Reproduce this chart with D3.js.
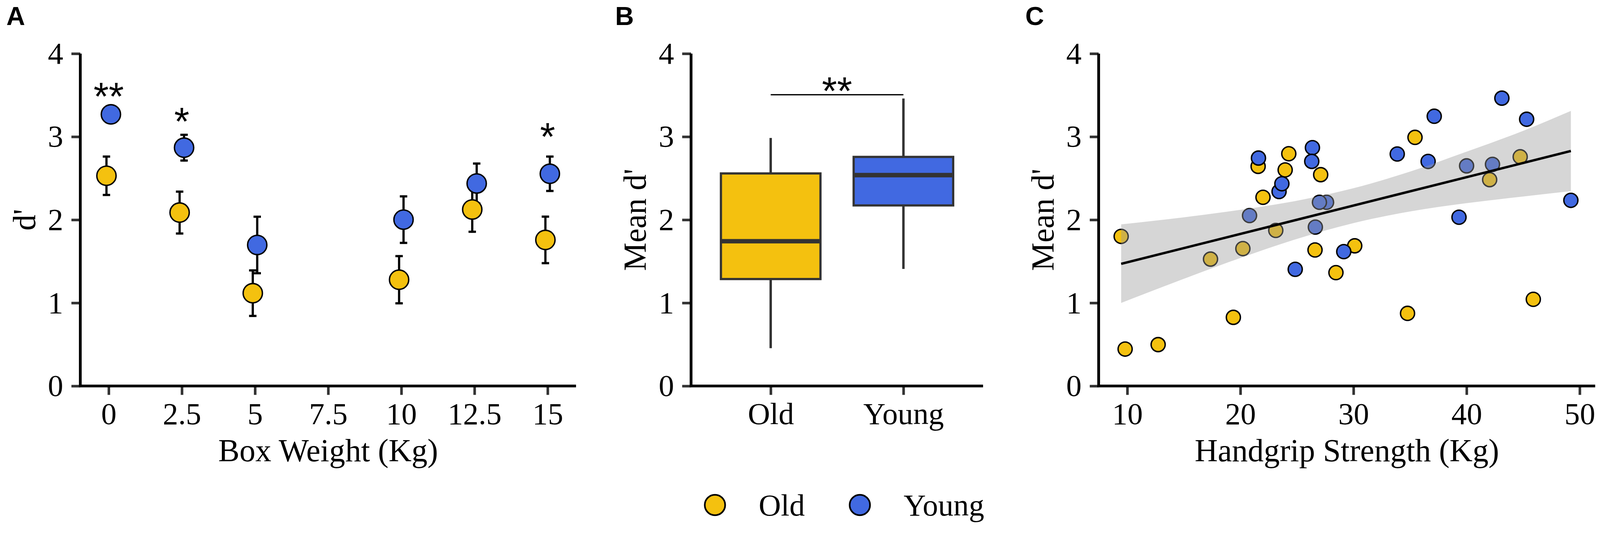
<!DOCTYPE html>
<html>
<head>
<meta charset="utf-8">
<script src="https://cdnjs.cloudflare.com/ajax/libs/d3/7.8.5/d3.min.js"></script>
<style>
  html, body { margin: 0; padding: 0; background: #fff; overflow: hidden; }
  #fig { display: block; }
  text { font-family: "Liberation Serif", "Times New Roman", serif; }
</style>
</head>
<body>
<svg id="fig"></svg>
<script>
// ---- panel A : d' by box weight (mean +/- error) ----
var boxWeight  = [0, 2.5, 5, 10, 12.5, 15];
var weightTicks = [0, 2.5, 5, 7.5, 10, 12.5, 15];
var oldMean    = [2.53, 2.087, 1.117, 1.279, 2.124, 1.758];
var oldErr     = [0.231, 0.252, 0.274, 0.284, 0.268, 0.28];
var youngMean  = [3.269, 2.868, 1.697, 2.002, 2.437, 2.554];
var youngErr   = [0.09, 0.155, 0.34, 0.28, 0.24, 0.207];
var starWeight = [0, 2.5, 15];
var starY      = [3.59, 3.29, 3.107];
var starText   = ['**', '*', '*'];

// ---- panel B : boxplot of mean d' ----
var groups   = ['Old', 'Young'];
var boxLow   = [0.455, 1.409];
var boxQ1    = [1.287, 2.173];
var boxMed   = [1.742, 2.538];
var boxQ3    = [2.558, 2.757];
var boxHigh  = [2.985, 3.46];

// ---- panel C : handgrip vs mean d' ----
var oldGrip   = [9.46, 9.81, 12.73, 17.36, 19.38, 20.22, 21.57, 22.0, 23.13, 23.96, 24.28, 26.6, 27.1, 28.45, 30.11, 34.78, 35.44, 42.04, 44.74, 45.9];
var oldDp     = [1.80, 0.444, 0.498, 1.527, 0.826, 1.653, 2.643, 2.271, 1.872, 2.60, 2.795, 1.637, 2.543, 1.364, 1.687, 0.874, 2.992, 2.483, 2.758, 1.043];
var youngGrip = [20.81, 21.6, 23.42, 23.67, 24.85, 26.37, 26.31, 26.63, 27.62, 26.99, 29.14, 33.87, 36.6, 37.14, 39.33, 40.0, 42.29, 43.12, 45.31, 49.22];
var youngDp   = [2.051, 2.743, 2.34, 2.434, 1.404, 2.868, 2.703, 1.912, 2.211, 2.211, 1.617, 2.792, 2.702, 3.246, 2.031, 2.649, 2.667, 3.464, 3.21, 2.234];
var fitX      = [9.46, 49.22];
var fitY      = [1.47, 2.828];
var bandX     = [9.46, 15, 20, 25, 30, 35, 40, 45, 49.22];
var bandLo    = [1.00, 1.29, 1.54, 1.77, 1.96, 2.10, 2.20, 2.28, 2.345];
var bandHi    = [1.945, 2.03, 2.12, 2.23, 2.38, 2.58, 2.82, 3.07, 3.31];
var gripTicks = [10, 20, 30, 40, 50];

var dTicks = [0, 1, 2, 3, 4];
var OLD = '#F4C10F', YOUNG = '#4169E1';

var W = 4318, H = 1425;
var yTop = 144.6, yBot = 1041;
// fit the drawing to the window width, keep the aspect
var vw = document.documentElement.clientWidth || window.innerWidth || W;
var svg = d3.select('#fig').attr('viewBox', '0 0 ' + W + ' ' + H)
  .attr('width', vw).attr('height', vw * H / W);
var y = d3.scaleLinear().domain([0, 4]).range([yBot, yTop]);

function axes(x, ax, xEnd, tickVals, fmt, xTitle, yTitle) {
  var g = svg.append('g');
  var xa = g.append('g').attr('transform', 'translate(0,' + yBot + ')')
    .call(d3.axisBottom(x).tickValues(tickVals).tickFormat(fmt)
      .tickSize(24).tickPadding(20).tickSizeOuter(0));
  var ya = g.append('g').attr('transform', 'translate(' + ax + ',0)')
    .call(d3.axisLeft(y).tickValues(dTicks).tickFormat(d3.format('d'))
      .tickSize(24).tickPadding(22).tickSizeOuter(0));
  [xa, ya].forEach(function(a) {
    a.attr('font-size', null).attr('font-family', null);
    a.select('.domain').remove();
    a.selectAll('.tick line').attr('stroke', '#333').attr('stroke-width', 7);
    a.selectAll('.tick text').attr('fill', '#000').style('font-size', '83px');
  });
  g.append('path')
    .attr('d', 'M' + ax + ',' + yTop + 'L' + ax + ',' + yBot + 'L' + xEnd + ',' + yBot)
    .attr('fill', 'none').attr('stroke', '#000').attr('stroke-width', 7.5)
    .attr('stroke-linejoin', 'miter');
  g.append('text').attr('x', (ax + xEnd) / 2).attr('y', 1244)
    .attr('text-anchor', 'middle').style('font-size', '86px').text(xTitle);
  g.append('text')
    .attr('transform', 'translate(' + (ax - 122) + ',' + ((yTop + yBot) / 2) + ') rotate(-90)')
    .attr('text-anchor', 'middle').style('font-size', '86px').text(yTitle);
}

function panelLetter(x, t) {
  svg.append('text').attr('x', x).attr('y', 67)
    .style('font-family', '"Liberation Sans", Arial, sans-serif')
    .style('font-weight', 'bold').style('font-size', '70px').text(t);
}

function stars(x, yv, t) {
  svg.append('text').attr('x', x).attr('y', y(yv) + 60)
    .attr('text-anchor', 'middle')
    .style('font-family', '"Liberation Sans", Arial, sans-serif')
    .style('font-size', '105px').text(t);
}

// ================= Panel A =================
var xA = d3.scaleLinear().domain([-0.97, 15.97]).range([216.7, 1554.5]);
axes(xA, 216.7, 1554.5, weightTicks, function(d) { return String(d); }, 'Box Weight (Kg)', "d'");

var dodge = 0.076;
var seriesA = [
  { mean: oldMean, err: oldErr, off: -dodge, col: OLD },
  { mean: youngMean, err: youngErr, off: dodge, col: YOUNG }
];
var gA = svg.append('g');
seriesA.forEach(function(s) {
  boxWeight.forEach(function(w, i) {
    var cx = xA(w + s.off);
    gA.append('line').attr('x1', cx).attr('x2', cx)
      .attr('y1', y(s.mean[i] - s.err[i])).attr('y2', y(s.mean[i] + s.err[i]))
      .attr('stroke', '#000').attr('stroke-width', 6);
    [s.mean[i] - s.err[i], s.mean[i] + s.err[i]].forEach(function(v) {
      gA.append('line').attr('x1', cx - 10).attr('x2', cx + 10)
        .attr('y1', y(v)).attr('y2', y(v))
        .attr('stroke', '#000').attr('stroke-width', 6);
    });
  });
});
seriesA.forEach(function(s) {
  gA.selectAll(null).data(boxWeight).enter().append('circle')
    .attr('cx', function(w) { return xA(w + s.off); })
    .attr('cy', function(w, i) { return y(s.mean[i]); })
    .attr('r', 26).attr('fill', s.col).attr('stroke', '#000').attr('stroke-width', 3.8);
});
starWeight.forEach(function(w, i) { stars(xA(w), starY[i], starText[i]); });
panelLetter(17, 'A');

// ================= Panel B =================
var xB = d3.scalePoint().domain(groups).range([1865, 2653]).padding(0.6);
axes(xB, 1865, 2653, groups, function(d) { return d; }, '', "Mean d'");
var bw = xB.step() * 0.75;
var gB = svg.append('g');
groups.forEach(function(gname, i) {
  var cx = xB(gname);
  gB.append('line').attr('x1', cx).attr('x2', cx).attr('y1', y(boxQ3[i])).attr('y2', y(boxHigh[i]))
    .attr('stroke', '#333').attr('stroke-width', 6.5);
  gB.append('line').attr('x1', cx).attr('x2', cx).attr('y1', y(boxQ1[i])).attr('y2', y(boxLow[i]))
    .attr('stroke', '#333').attr('stroke-width', 6.5);
  gB.append('rect').attr('x', cx - bw / 2).attr('width', bw)
    .attr('y', y(boxQ3[i])).attr('height', y(boxQ1[i]) - y(boxQ3[i]))
    .attr('fill', i === 0 ? OLD : YOUNG).attr('stroke', '#333').attr('stroke-width', 6);
  gB.append('line').attr('x1', cx - bw / 2).attr('x2', cx + bw / 2)
    .attr('y1', y(boxMed[i])).attr('y2', y(boxMed[i]))
    .attr('stroke', '#333').attr('stroke-width', 12);
});
gB.append('line').attr('x1', xB('Old')).attr('x2', xB('Young'))
  .attr('y1', y(3.505)).attr('y2', y(3.505)).attr('stroke', '#000').attr('stroke-width', 3.2);
stars((xB('Old') + xB('Young')) / 2, 3.655, '**');
panelLetter(1660, 'B');

// legend
var legendX = [1929.5, 2320.5];
groups.forEach(function(gname, i) {
  svg.append('circle').attr('cx', legendX[i]).attr('cy', 1362).attr('r', 27.5)
    .attr('fill', i === 0 ? OLD : YOUNG).attr('stroke', '#000').attr('stroke-width', 4.5);
  svg.append('text').attr('x', legendX[i] + 118).attr('y', 1391)
    .style('font-size', '83px').text(gname);
});

// ================= Panel C =================
var xC = d3.scaleLinear().domain([7.47, 51.37]).range([2965, 4305]);
axes(xC, 2965, 4305, gripTicks, function(d) { return String(d); }, 'Handgrip Strength (Kg)', "Mean d'");
var gC = svg.append('g');
[[oldGrip, oldDp, OLD], [youngGrip, youngDp, YOUNG]].forEach(function(s) {
  gC.selectAll(null).data(s[0]).enter().append('circle')
    .attr('cx', function(d) { return xC(d); })
    .attr('cy', function(d, i) { return y(s[1][i]); })
    .attr('r', 19).attr('fill', s[2]).attr('stroke', '#000').attr('stroke-width', 3.8);
});
var band = d3.area()
  .x(function(d, i) { return xC(bandX[i]); })
  .y0(function(d, i) { return y(bandLo[i]); })
  .y1(function(d, i) { return y(bandHi[i]); })
  .curve(d3.curveMonotoneX);
gC.append('path').attr('d', band(bandX)).attr('fill', '#999').attr('fill-opacity', 0.4);
var fit = d3.line()
  .x(function(d, i) { return xC(fitX[i]); })
  .y(function(d, i) { return y(fitY[i]); });
gC.append('path').attr('d', fit(fitX)).attr('fill', 'none')
  .attr('stroke', '#000').attr('stroke-width', 6.5);
panelLetter(2767, 'C');
</script>
</body>
</html>
